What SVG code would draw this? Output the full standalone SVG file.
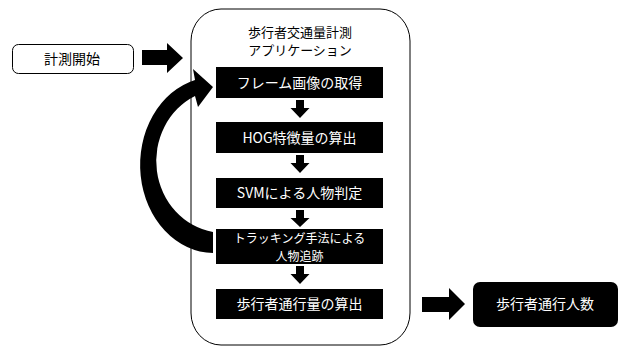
<svg xmlns="http://www.w3.org/2000/svg" width="620" height="347" viewBox="0 0 620 347">
<style>
.t{font-family:"Noto Sans CJK JP","Noto Sans",sans-serif;font-size:14px;text-anchor:middle}
.s{font-size:13px}
.xs{font-size:12px}
.w{fill:#fff}
.k{fill:#000}
.box{fill:#000}
.arr{fill:#000;stroke:none}
</style>
<rect width="620" height="347" fill="#fff"/>
<g id="app">
<rect x="191" y="9" width="219" height="336" rx="30" ry="32" fill="#fff" stroke="#000" stroke-width="1"/>
<text class="t k s" x="300" y="37">歩行者交通量計測</text>
<text class="t k s" x="300" y="55">アプリケーション</text>
</g>
<g id="start">
<rect x="12.5" y="44.5" width="121" height="29" rx="6" fill="#fff" stroke="#000"/>
<text class="t k" x="72" y="64">計測開始</text>
</g>
<g id="s1">
<rect class="box" x="216" y="67" width="167" height="31"/>
<text class="t w" x="299.5" y="87.5">フレーム画像の取得</text>
</g>
<g id="s2">
<rect class="box" x="216" y="122" width="167" height="31"/>
<text class="t w" x="299.5" y="142.5">HOG特徴量の算出</text>
</g>
<g id="s3">
<rect class="box" x="216" y="178" width="167" height="30"/>
<text class="t w" x="299.5" y="198">SVMによる人物判定</text>
</g>
<g id="s4">
<rect class="box" x="216" y="229" width="167" height="35"/>
<text class="t w xs" x="299.5" y="243">トラッキング手法による</text>
<text class="t w xs" x="299.5" y="260.5">人物追跡</text>
</g>
<g id="s5">
<rect class="box" x="216" y="289" width="167" height="30"/>
<text class="t w" x="299.5" y="309">歩行者通行量の算出</text>
</g>
<g id="result">
<rect class="box" x="473" y="282" width="145" height="45" rx="7"/>
<text class="t w" x="545" y="309">歩行者通行人数</text>
</g>
<g id="connectors">
<path class="arr" d="M142,50 H167 V43 L183,58 L167,73 V65 H142 Z"/>
<path class="arr" d="M422,297 H449 V288 L465,304 L449,320 V312 H422 Z"/>
<path class="arr" d="M296,100 H304 V108 H309.5 L300,118 L290.5,108 H296 Z"/>
<path class="arr" d="M296,155 H304 V163 H309.5 L300,173 L290.5,163 H296 Z"/>
<path class="arr" d="M296,210 H304 V218 H309.5 L300,227 L290.5,218 H296 Z"/>
<path class="arr" d="M296,266 H304 V274 H309.5 L300,284 L290.5,274 H296 Z"/>
<path class="arr" d="M213,232 A68 72 0 0 1 195,96 L198,107 L213,87 L193,69 L195,80 A74 88 0 0 0 213,253 Z"/>
</g>
</svg>
